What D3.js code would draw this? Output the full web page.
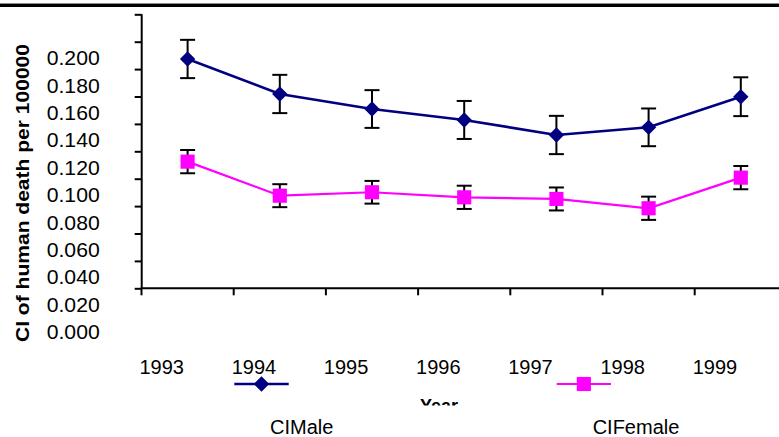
<!DOCTYPE html>
<html>
<head>
<meta charset="utf-8">
<script src="https://cdn.jsdelivr.net/npm/d3@7/dist/d3.min.js"></script>
<style>
  html, body { margin: 0; padding: 0; background: #fff; }
  svg { display: block; font-family: "Liberation Sans", Arial, sans-serif; }
</style>
</head>
<body>
<svg id="chart" width="779" height="437"></svg>
<script>
// Yearly CI of human death per 100000, by sex, with error bars
const years = ["1993", "1994", "1995", "1996", "1997", "1998", "1999"];
const maleCI = [0.1995, 0.1739, 0.1629, 0.1549, 0.1439, 0.1495, 0.1719];
const maleErr = [0.0140, 0.0140, 0.0138, 0.0139, 0.0140, 0.0138, 0.0142];
const femaleCI = [0.1244, 0.0995, 0.1020, 0.0983, 0.0971, 0.0903, 0.1127];
const femaleErr = [0.0085, 0.0084, 0.0083, 0.0085, 0.0084, 0.0085, 0.0085];
const yTicks = [0, 0.02, 0.04, 0.06, 0.08, 0.10, 0.12, 0.14, 0.16, 0.18, 0.20];
const seriesNames = ["CIMale", "CIFemale"];

const svg = d3.select("#chart");

// frame line along the top
svg.append("rect").attr("x", 0).attr("y", 3).attr("width", 779).attr("height", 1).attr("fill", "#8a8a8a");
svg.append("rect").attr("x", 0).attr("y", 4).attr("width", 779).attr("height", 3).attr("fill", "#000");

// value scale used for the series, and the one the axis ticks sit on
const y = d3.scaleLinear().domain([0, 0.2]).range([331.7, 58.3]);
const yAxisScale = y.copy().range([288.3, 14.3]);
const labelShift = y(0) - yAxisScale(0);

const x = d3.scaleBand().domain(years).range([141.5, 141.5 + 92.2 * years.length]);
const cx = d => x(d) + x.bandwidth() / 2;

// y axis
const yAxis = svg.append("g")
  .attr("transform", "translate(141.7,0)")
  .call(d3.axisLeft(yAxisScale).tickValues(yTicks).tickFormat(d3.format(".3f")).tickSize(7).tickPadding(35));
yAxis.select(".domain").attr("stroke", "#000").attr("stroke-width", 2).attr("d", `M0,${yAxisScale(0.2)}V${yAxisScale(0)}`);
yAxis.selectAll(".tick line").attr("stroke", "#000").attr("stroke-width", 2);
yAxis.selectAll(".tick text")
  .attr("font-size", 20).attr("font-family", "Liberation Sans, Arial, sans-serif").attr("fill", "#000")
  .attr("textLength", 53).attr("lengthAdjust", "spacingAndGlyphs")
  .attr("dy", null).attr("y", labelShift).attr("dominant-baseline", "central");

// x axis: line, category boundary ticks, year labels
const xAxisY = yAxisScale(0);
svg.append("line").attr("x1", 140.7).attr("x2", 779).attr("y1", xAxisY).attr("y2", xAxisY)
  .attr("stroke", "#000").attr("stroke-width", 2);
svg.append("g").selectAll("line").data(years).join("line")
  .attr("x1", d => x(d)).attr("x2", d => x(d))
  .attr("y1", xAxisY).attr("y2", xAxisY + 7)
  .attr("stroke", "#000").attr("stroke-width", 2);
svg.append("g").selectAll("text").data(years).join("text")
  .attr("x", d => x(d) + 20.2).attr("y", 374)
  .attr("text-anchor", "middle").attr("font-size", 20).attr("fill", "#000")
  .text(d => d);

// axis titles
svg.append("text")
  .attr("transform", "translate(28.5,193) rotate(-90)")
  .attr("text-anchor", "middle").attr("font-size", 18.5).attr("font-weight", "bold")
  .attr("textLength", 298).attr("lengthAdjust", "spacingAndGlyphs")
  .text("CI of human death per 100000");

svg.append("clipPath").attr("id", "yearClip")
  .append("rect").attr("x", 0).attr("y", 0).attr("width", 779).attr("height", 405.5);
svg.append("text")
  .attr("clip-path", "url(#yearClip)")
  .attr("x", 439).attr("y", 412)
  .attr("text-anchor", "middle").attr("font-size", 18).attr("font-weight", "bold")
  .text("Year");

// markers: a square turned 45 degrees, and an upright square
const diamondPath = () => d3.symbol().type(d3.symbolSquare).size(118)();
const squarePath = () => d3.symbol().type(d3.symbolSquare).size(200)();

function drawSeries(values, errs, color, width, symbolPath, angle) {
  const g = svg.append("g");
  const line = d3.line().x((d, i) => cx(years[i])).y(d => y(d));
  g.append("path").datum(values).attr("d", line)
    .attr("fill", "none").attr("stroke", color).attr("stroke-width", width);
  const bars = g.append("g").selectAll("g").data(values).join("g")
    .attr("stroke", "#000").attr("stroke-width", 2);
  bars.append("line")
    .attr("x1", (d, i) => cx(years[i])).attr("x2", (d, i) => cx(years[i]))
    .attr("y1", (d, i) => y(d + errs[i])).attr("y2", (d, i) => y(d - errs[i]));
  bars.append("line")
    .attr("x1", (d, i) => cx(years[i]) - 7.5).attr("x2", (d, i) => cx(years[i]) + 7.5)
    .attr("y1", (d, i) => y(d + errs[i])).attr("y2", (d, i) => y(d + errs[i]));
  bars.append("line")
    .attr("x1", (d, i) => cx(years[i]) - 7.5).attr("x2", (d, i) => cx(years[i]) + 7.5)
    .attr("y1", (d, i) => y(d - errs[i])).attr("y2", (d, i) => y(d - errs[i]));
  g.append("g").selectAll("path").data(values).join("path")
    .attr("d", symbolPath)
    .attr("transform", (d, i) => `translate(${cx(years[i])},${y(d)}) rotate(${angle})`)
    .attr("fill", color);
}

drawSeries(maleCI, maleErr, "#000080", 2.6, diamondPath, 45);
drawSeries(femaleCI, femaleErr, "#FF00FF", 2.2, squarePath, 0);

// legend
const legend = [
  { name: seriesNames[0], color: "#000080", sym: diamondPath, angle: 45, x1: 234.3, x2: 288.7, tx: 301.7, w: 2.6 },
  { name: seriesNames[1], color: "#FF00FF", sym: squarePath, angle: 0, x1: 556.7, x2: 611, tx: 636, w: 2.2 }
];
const lg = svg.append("g").selectAll("g").data(legend).join("g");
lg.append("line").attr("x1", d => d.x1).attr("x2", d => d.x2).attr("y1", 384).attr("y2", 384)
  .attr("stroke", d => d.color).attr("stroke-width", d => d.w);
lg.append("path").attr("d", d => d.sym())
  .attr("transform", d => `translate(${(d.x1 + d.x2) / 2},384) rotate(${d.angle})`).attr("fill", d => d.color);
lg.append("text").attr("x", d => d.tx).attr("y", 434).attr("text-anchor", "middle")
  .attr("font-size", 20).attr("fill", "#000").text(d => d.name);
</script>
</body>
</html>
